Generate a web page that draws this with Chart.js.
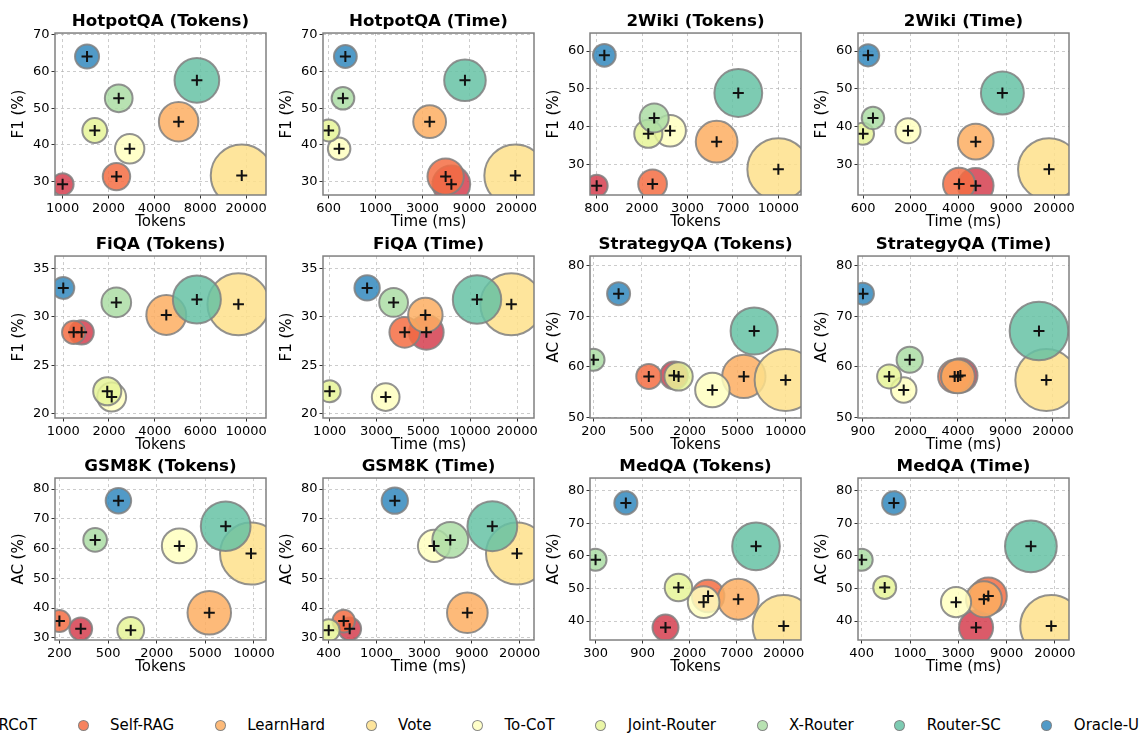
<!DOCTYPE html>
<html><head><meta charset="utf-8">
<script src="https://cdn.jsdelivr.net/npm/chart.js@4.4.1/dist/chart.umd.min.js"></script>
<style>
html,body{margin:0;padding:0;background:#fff;}
body{width:1140px;height:733px;overflow:hidden;position:relative;font-family:'DejaVu Sans',sans-serif;}
canvas{position:absolute;}
#legend{position:absolute;left:-34px;top:715px;height:20px;display:flex;align-items:center;white-space:nowrap;font-size:15px;line-height:20px;color:#000;}
#legend .item{display:flex;align-items:center;margin-right:40.5px;}
#legend .mk{width:11px;height:11px;border-radius:50%;border:1px solid rgba(128,128,128,0.9);box-sizing:border-box;margin-right:21.5px;}
</style></head><body>
<div id="legend"></div>
<script>
// ---------- data ----------
const methods = ['RCoT','Self-RAG','LearnHard','Vote','To-CoT','Joint-Router','X-Router','Router-SC','Oracle-U'];
const methodColors = ['#d53e4f','#f46d43','#fdae61','#fee08b','#ffffbf','#e6f598','#abdda4','#66c2a5','#3288bd'];

// scores (same order as methods)
const hotpotF1   = [29.2, 31.3, 46.3, 31.6, 38.9, 43.9, 52.7, 57.6, 64.1];
const wikiF1     = [24.3, 24.8, 36.0, 28.7, 38.9, 38.1, 42.3, 48.9, 58.9];
const fiqaF1     = [28.4, 28.4, 30.2, 31.3, 21.7, 22.3, 31.5, 31.8, 33.0];
const strategyAC = [58.3, 58.1, 58.1, 57.4, 55.4, 58.1, 61.4, 67.1, 74.5];
const gsmAC      = [33.0, 35.6, 38.4, 58.3, 60.9, 32.5, 62.9, 67.5, 76.1];
const medAC      = [38.0, 47.7, 46.7, 38.5, 45.8, 50.3, 58.8, 62.9, 76.2];

// cost: tokens and time (ms)
const hotpotTokens   = [1000, 2410, 6650, 18640, 2990, 1690, 2500, 8960, 1490];
const hotpotTime     = [5940, 5340, 3960, 19630, 730, 600, 784, 7660, 820];
const wikiTokens     = [800, 1740, 4240, 10000, 2220, 1640, 1780, 5730, 890];
const wikiTime       = [4750, 3500, 4750, 18250, 1370, 600, 720, 7750, 658];
const fiqaTokens     = [1260, 1140, 3660, 9080, 1840, 1740, 1950, 5380, 1000];
const fiqaTime       = [4690, 3320, 4620, 18270, 2450, 1000, 2780, 10550, 1820];
const strategyTokens = [1030, 616, 4270, 10000, 2250, 1130, 200, 5270, 333];
const strategyTime   = [4410, 4020, 4240, 17940, 1750, 1380, 1930, 15910, 900];
const gsmTokens      = [307, 200, 4070, 9420, 2230, 839, 410, 5660, 655];
const gsmTime        = [615, 544, 6850, 18930, 3460, 400, 4830, 11430, 1550];
const medTokens      = [1430, 3700, 7260, 20000, 3350, 1910, 300, 10790, 590];
const medTime        = [4050, 5190, 4750, 18560, 2700, 637, 400, 12290, 767];

// x tick labels
const hotpotTokenTicks   = ['1000','2000','4000','8000','20000'];
const hotpotTimeTicks    = ['600','1000','3000','9000','20000'];
const wikiTokenTicks     = ['800','2000','3000','7000','10000'];
const wikiTimeTicks      = ['600','2000','4000','9000','20000'];
const fiqaTokenTicks     = ['1000','2000','4000','6000','10000'];
const fiqaTimeTicks      = ['1000','3000','5000','10000','20000'];
const strategyTokenTicks = ['200','500','2000','5000','10000'];
const strategyTimeTicks  = ['900','2000','4000','9000','20000'];
const gsmTokenTicks      = ['200','500','2000','5000','10000'];
const gsmTimeTicks       = ['400','1000','3000','9000','20000'];
const medTokenTicks      = ['300','900','2000','7000','20000'];
const medTimeTicks       = ['400','1000','3000','9000','20000'];

// x axis limits
const hotpotTokenLim   = [883, 27700];
const hotpotTimeLim    = [540, 27820];
const wikiTokenLim     = [729, 13700];
const wikiTimeLim      = [547, 26330];
const fiqaTokenLim     = [901, 12850];
const fiqaTimeLim      = [899, 26240];
const strategyTokenLim = [186, 13680];
const strategyTimeLim  = [830, 25970];
const gsmTokenLim      = [183, 12730];
const gsmTimeLim       = [356, 26830];
const medTokenLim      = [265, 29460];
const medTimeLim       = [371, 26590];

// y tick labels
const hotpotYTicks   = [30, 40, 50, 60, 70];
const wikiYTicks     = [30, 40, 50, 60];
const fiqaYTicks     = [20, 25, 30, 35];
const strategyYTicks = [50, 60, 70, 80];
const gsmYTicks      = [30, 40, 50, 60, 70, 80];
const medYTicks      = [40, 50, 60, 70, 80];

const panels = [
  {title:'HotpotQA (Tokens)',   xLabel:'Tokens',    yLabel:'F1 (%)', x:hotpotTokens,   y:hotpotF1,   xt:hotpotTokenTicks,   xl:hotpotTokenLim,   yt:hotpotYTicks},
  {title:'HotpotQA (Time)',     xLabel:'Time (ms)', yLabel:'F1 (%)', x:hotpotTime,     y:hotpotF1,   xt:hotpotTimeTicks,    xl:hotpotTimeLim,    yt:hotpotYTicks},
  {title:'2Wiki (Tokens)',      xLabel:'Tokens',    yLabel:'F1 (%)', x:wikiTokens,     y:wikiF1,     xt:wikiTokenTicks,     xl:wikiTokenLim,     yt:wikiYTicks},
  {title:'2Wiki (Time)',        xLabel:'Time (ms)', yLabel:'F1 (%)', x:wikiTime,       y:wikiF1,     xt:wikiTimeTicks,      xl:wikiTimeLim,      yt:wikiYTicks},
  {title:'FiQA (Tokens)',       xLabel:'Tokens',    yLabel:'F1 (%)', x:fiqaTokens,     y:fiqaF1,     xt:fiqaTokenTicks,     xl:fiqaTokenLim,     yt:fiqaYTicks},
  {title:'FiQA (Time)',         xLabel:'Time (ms)', yLabel:'F1 (%)', x:fiqaTime,       y:fiqaF1,     xt:fiqaTimeTicks,      xl:fiqaTimeLim,      yt:fiqaYTicks},
  {title:'StrategyQA (Tokens)', xLabel:'Tokens',    yLabel:'AC (%)', x:strategyTokens, y:strategyAC, xt:strategyTokenTicks, xl:strategyTokenLim, yt:strategyYTicks},
  {title:'StrategyQA (Time)',   xLabel:'Time (ms)', yLabel:'AC (%)', x:strategyTime,   y:strategyAC, xt:strategyTimeTicks,  xl:strategyTimeLim,  yt:strategyYTicks},
  {title:'GSM8K (Tokens)',      xLabel:'Tokens',    yLabel:'AC (%)', x:gsmTokens,      y:gsmAC,      xt:gsmTokenTicks,      xl:gsmTokenLim,      yt:gsmYTicks},
  {title:'GSM8K (Time)',        xLabel:'Time (ms)', yLabel:'AC (%)', x:gsmTime,        y:gsmAC,      xt:gsmTimeTicks,       xl:gsmTimeLim,       yt:gsmYTicks},
  {title:'MedQA (Tokens)',      xLabel:'Tokens',    yLabel:'AC (%)', x:medTokens,      y:medAC,      xt:medTokenTicks,      xl:medTokenLim,      yt:medYTicks},
  {title:'MedQA (Time)',        xLabel:'Time (ms)', yLabel:'AC (%)', x:medTime,        y:medAC,      xt:medTimeTicks,       xl:medTimeLim,       yt:medYTicks}
];

// ---------- layout / style ----------
const colLeft = [55, 323, 590, 858];
const rowTop = [33, 256, 478];
const PW = 211, PH = 162;
const PADL = 60, PADR = 60, PADT = 33, PADB = 40;
const CW = PW + PADL + PADR, CH = PH + PADT + PADB;
const R0 = 11, R1 = 31;
const FILL_ALPHA = 0.85;
const FONT = "'DejaVu Sans', sans-serif";

Chart.defaults.font.family = FONT;
Chart.defaults.color = '#000';

function rgba(hex, a){ const n = parseInt(hex.slice(1), 16); return `rgba(${n>>16},${(n>>8)&255},${n&255},${a})`; }
function logTicks(labels){ const a = +labels[0], b = +labels[labels.length-1], n = labels.length; return labels.map((_, i) => a * Math.pow(b / a, i / (n - 1))); }
function bubbleRadii(xs){ const lo = Math.min(...xs), hi = Math.max(...xs); return xs.map(v => Math.sqrt(R0*R0 + (R1*R1 - R0*R0) * (v - lo) / (hi - lo))); }

const framePlugin = {
  id: 'frame',
  afterDatasetsDraw(chart){
    const {ctx, chartArea: a} = chart;
    ctx.save();
    ctx.strokeStyle = '#808080';
    ctx.lineWidth = 1.5;
    ctx.strokeRect(a.left, a.top, a.right - a.left, a.bottom - a.top);
    ctx.restore();
  }
};

const gridStyle = { color: 'rgba(170,170,170,0.75)', lineWidth: 0.8, tickColor: '#333', tickLength: 3.5, tickWidth: 1, tickBorderDash: [] };

panels.forEach((p, k) => {
  const col = k % 4, row = Math.floor(k / 4);
  const cv = document.createElement('canvas');
  cv.width = CW; cv.height = CH;
  cv.style.left = (colLeft[col] - PADL) + 'px';
  cv.style.top = (rowTop[row] - PADT) + 'px';
  cv.style.width = CW + 'px'; cv.style.height = CH + 'px';
  document.body.appendChild(cv);

  const rs = bubbleRadii(p.x);
  const bubbles = p.x.map((v, i) => ({x: v, y: p.y[i], r: rs[i]}));
  const crosses = p.x.map((v, i) => ({x: v, y: p.y[i]}));
  const xTickVals = logTicks(p.xt);
  const yMin = 0.9 * Math.min(...p.y), yMax = 1.1 * Math.max(...p.y);

  new Chart(cv, {
    type: 'bubble',
    data: {
      datasets: [
        { label: 'methods', data: bubbles, order: 1, clip: 0,
          backgroundColor: methodColors.map(c => rgba(c, FILL_ALPHA)),
          borderColor: 'rgba(128,128,128,0.85)', borderWidth: 2 },
        { label: 'centers', data: crosses, order: 0, pointStyle: 'cross', radius: 5.5,
          borderColor: '#111', borderWidth: 2, backgroundColor: 'rgba(0,0,0,0)' }
      ]
    },
    options: {
      responsive: false, animation: false, devicePixelRatio: 1, events: [],
      layout: { padding: { left: 0, right: PADR, top: 0, bottom: 0 } },
      plugins: {
        legend: { display: false }, tooltip: { enabled: false },
        title: { display: true, fullSize: false, text: p.title, color: '#000',
          font: { size: 16.7, weight: 'bold', family: FONT }, padding: { top: 12, bottom: 1 } }
      },
      scales: {
        x: {
          type: 'logarithmic', min: p.xl[0], max: p.xl[1],
          afterBuildTicks: s => { s.ticks = xTickVals.map(v => ({ value: v })); },
          afterFit: s => { s.height = PADB; },
          ticks: { autoSkip: false, maxRotation: 0, padding: 2, color: '#000',
            font: { size: 13, family: FONT }, callback: (v, i) => p.xt[i] },
          grid: gridStyle,
          border: { display: false, dash: [3, 3] },
          title: { display: true, text: p.xLabel, color: '#000', font: { size: 15, family: FONT },
            padding: { top: 0, bottom: 3.5 } }
        },
        y: {
          type: 'linear', min: yMin, max: yMax,
          afterBuildTicks: s => { s.ticks = p.yt.map(v => ({ value: v })); },
          afterFit: s => { s.width = PADL; },
          ticks: { padding: 2, color: '#000', font: { size: 13, family: FONT }, callback: v => String(v) },
          grid: gridStyle,
          border: { display: false, dash: [3, 3] },
          title: { display: true, text: p.yLabel, color: '#000', font: { size: 15, family: FONT },
            padding: { top: 15, bottom: 0 } }
        }
      }
    },
    plugins: [framePlugin]
  });
});

// ---------- legend ----------
const leg = document.getElementById('legend');
methods.forEach((m, i) => {
  const it = document.createElement('div');
  it.className = 'item';
  const mk = document.createElement('span');
  mk.className = 'mk';
  mk.style.background = rgba(methodColors[i], FILL_ALPHA);
  const tx = document.createElement('span');
  tx.textContent = m;
  it.appendChild(mk); it.appendChild(tx);
  leg.appendChild(it);
});
</script>
</body></html>
